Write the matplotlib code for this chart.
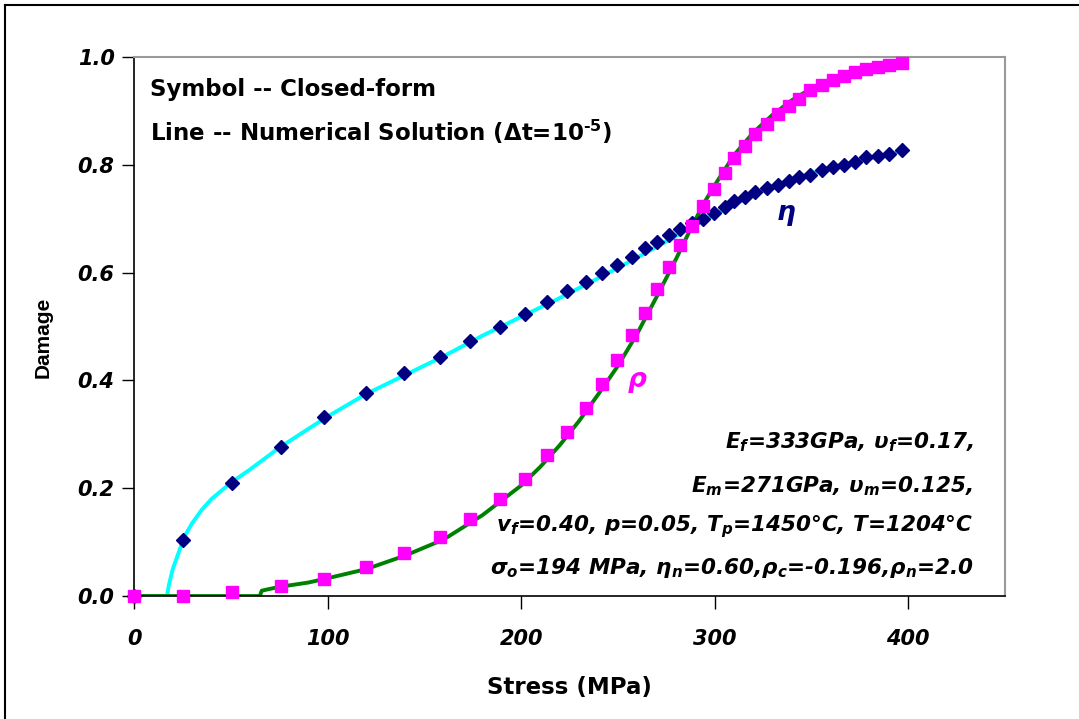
import matplotlib
matplotlib.use("Agg")
import matplotlib.pyplot as plt
from matplotlib.lines import Line2D

plt.rcParams.update({
    "font.family": ["DejaVu Sans"],
    "mathtext.fontset": "custom",
    "mathtext.rm": "DejaVu Sans:italic:bold",
    "mathtext.it": "DejaVu Sans:italic:bold",
    "mathtext.bf": "DejaVu Sans:bold",
})

# closed-form points (stress in MPa)
stress_pts = [0, 25.3, 50.6, 75.9, 98.2, 120.1, 139.5, 158, 173.8, 189, 202.2,
              213.6, 223.7, 233.4, 241.7, 249.6, 257.2, 263.8, 270.3, 276.2,
              282.2, 288.2, 294.1, 299.8, 305.3, 310.1, 315.6, 321.1, 327.0,
              332.9, 338.4, 343.8, 349.5, 355.4, 361.0, 366.7, 372.4, 378.4,
              384.5, 390.3, 396.8]
eta_pts = [0, 0.104, 0.21, 0.277, 0.332, 0.376, 0.413, 0.444, 0.474, 0.500,
           0.524, 0.545, 0.566, 0.583, 0.599, 0.615, 0.629, 0.645, 0.656, 0.670,
           0.681, 0.692, 0.699, 0.711, 0.722, 0.732, 0.740, 0.749, 0.757, 0.763,
           0.770, 0.777, 0.782, 0.790, 0.796, 0.799, 0.806, 0.814, 0.817, 0.821,
           0.827]
rho_pts = [0, 0.0, 0.008, 0.018, 0.032, 0.053, 0.08, 0.11, 0.143, 0.18, 0.218,
           0.262, 0.305, 0.349, 0.393, 0.437, 0.485, 0.526, 0.570, 0.611, 0.652,
           0.687, 0.724, 0.755, 0.784, 0.812, 0.835, 0.858, 0.876, 0.895, 0.910,
           0.923, 0.938, 0.948, 0.957, 0.965, 0.972, 0.978, 0.982, 0.985, 0.988]

# numerical solution lines
eta_line_x = [0, 17, 18, 20, 23, 26, 30, 35, 40, 50, 60, 75, 90, 100, 120, 140,
              160, 180, 200, 220, 240, 260, 280, 300, 320, 340, 360, 380, 398]
eta_line_y = [0, 0, 0.02, 0.05, 0.08, 0.11, 0.135, 0.16, 0.18, 0.21, 0.235, 0.275,
              0.31, 0.333, 0.375, 0.41, 0.445, 0.483, 0.518, 0.553, 0.59, 0.628,
              0.668, 0.708, 0.744, 0.774, 0.795, 0.812, 0.826]
rho_line_x = [0, 65, 66, 75, 90, 100, 120, 140, 160, 180, 200, 210, 220, 230,
              240, 250, 260, 270, 280, 285, 290, 295, 300, 310, 320, 330, 340,
              350, 360, 370, 380, 390, 398]
rho_line_y = [0, 0, 0.01, 0.017, 0.025, 0.033, 0.05, 0.075, 0.105, 0.15, 0.205,
              0.24, 0.28, 0.325, 0.375, 0.427, 0.487, 0.555, 0.625, 0.662, 0.698,
              0.732, 0.762, 0.818, 0.86, 0.893, 0.92, 0.942, 0.958, 0.97, 0.979,
              0.984, 0.987]

NAVY = "#000080"
MAGENTA = "#FF00FF"
CYAN = "#00FFFF"
GREEN = "#008000"

fig = plt.figure(figsize=(10.79, 7.19), dpi=100)
ax = fig.add_axes([0.1242, 0.171, 0.8072, 0.7497])

ax.plot(eta_line_x, eta_line_y, color=CYAN, lw=2.8, zorder=2)
ax.plot(rho_line_x, rho_line_y, color=GREEN, lw=2.8, zorder=2)
ax.plot(stress_pts, eta_pts, ls="none", marker="D", ms=7.5, color=NAVY,
        mec=NAVY, zorder=3, clip_on=False)
ax.plot(stress_pts, rho_pts, ls="none", marker="s", ms=8.5, color=MAGENTA,
        mec=MAGENTA, zorder=4, clip_on=False)

ax.set_xlim(0, 450)
ax.set_ylim(0, 1.0)
ax.set_xticks([0, 100, 200, 300, 400])
ax.set_yticks([0, 0.2, 0.4, 0.6, 0.8, 1.0])
ax.set_yticklabels(["0.0", "0.2", "0.4", "0.6", "0.8", "1.0"])
ax.tick_params(direction="out", length=9, width=1)
ax.tick_params(axis="x", pad=14.5)
ax.tick_params(axis="y", pad=5)
for lbl in ax.get_xticklabels() + ax.get_yticklabels():
    lbl.set_fontsize(15)
    lbl.set_fontweight("bold")
    lbl.set_fontstyle("italic")

for side in ["top", "right"]:
    ax.spines[side].set_color("#999999")
    ax.spines[side].set_linewidth(1.5)
for side in ["left", "bottom"]:
    ax.spines[side].set_color("black")
    ax.spines[side].set_linewidth(1.2)

ax.set_xlabel("Stress (MPa)", fontsize=16.5, fontweight="bold", labelpad=20)
ax.set_ylabel("Damage", fontsize=15, fontweight="bold",
              family=["Liberation Sans", "DejaVu Sans"])
ax.yaxis.set_label_coords(-0.104, 0.48)
ax.yaxis.label.set_verticalalignment("center")

ax.text(0.018, 0.940, "Symbol -- Closed-form", transform=ax.transAxes,
        fontsize=16.5, fontweight="bold", va="center")
ax.text(0.018, 0.862, "Line -- Numerical Solution (Δt=10$^{\\mathbf{‐5}}$)",
        transform=ax.transAxes, fontsize=16.5, fontweight="bold", va="center")

ax.text(337, 0.71, "η", color=NAVY, fontsize=19, fontweight="bold",
        fontstyle="italic", ha="center", va="center")
ax.text(260, 0.40, "ρ", color=MAGENTA, fontsize=19, fontweight="bold",
        fontstyle="italic", ha="center", va="center")

params = [
    "E$_{f}$=333GPa, υ$_{f}$=0.17,",
    "E$_{m}$=271GPa, υ$_{m}$=0.125,",
    "v$_{f}$=0.40, p=0.05, T$_{p}$=1450°C, T=1204°C",
    "σ$_{o}$=194 MPa, η$_{n}$=0.60,ρ$_{c}$=-0.196,ρ$_{n}$=2.0",
]
param_y = [0.286, 0.204, 0.128, 0.052]
for txt, yy in zip(params, param_y):
    ax.text(0.964, yy, txt, transform=ax.transAxes, fontsize=15.5,
            fontweight="bold", fontstyle="italic", ha="right", va="center")

# outer chart border (only top/left visible in frame)
fig.add_artist(Line2D([0.005, 0.005], [0.0, 0.993], color="black", lw=1.5))
fig.add_artist(Line2D([0.005, 1.0], [0.993, 0.993], color="black", lw=1.5))

fig.savefig("out.png", dpi=100, facecolor="white")
